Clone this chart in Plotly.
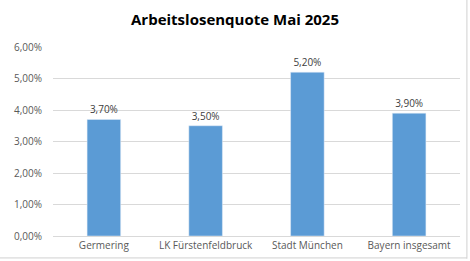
import plotly.graph_objects as go

categories = ["Germering", "LK Fürstenfeldbruck", "Stadt München", "Bayern insgesamt"]
values = [0.037, 0.035, 0.052, 0.039]
tick_vals = [0, 0.01, 0.02, 0.03, 0.04, 0.05, 0.06]

fig = go.Figure(go.Bar(
    x=categories, y=values,
    marker_color="#5B9BD5",
    texttemplate="%{y:.2%}", textposition="outside",
    textfont=dict(size=10, color="#404040"),
    cliponaxis=False,
))

fig.update_layout(
    width=470, height=261,
    margin=dict(l=53, r=10, t=47, b=25),
    paper_bgcolor="white", plot_bgcolor="white",
    separators=",.",
    bargap=0.67,
    font=dict(family="Open Sans, Liberation Sans, sans-serif", color="#595959", size=10),
    title=dict(text="<b>Arbeitslosenquote Mai 2025</b>", x=0.5, xanchor="center",
               y=0.925, yanchor="middle",
               font=dict(size=15, color="#000000")),
    showlegend=False,
)
fig.update_yaxes(range=[0, 0.06], tickvals=tick_vals, tickformat=".2%",
                 showgrid=True, gridcolor="#D9D9D9", gridwidth=1,
                 zeroline=False, showline=False, ticks="", ticklabelstandoff=10,
                 tickfont=dict(size=10, color="#595959"))
fig.update_xaxes(showline=True, linecolor="#D9D9D9", ticks="",
                 tickfont=dict(size=10, color="#595959"))

fig.add_shape(type="line", xref="paper", yref="paper", x0=1.017, x1=1.017, y0=-0.12, y1=1.3,
              line=dict(color="#D0D0D0", width=1))
fig.add_shape(type="line", xref="paper", yref="paper", x0=-0.2, x1=1.017, y0=-0.116, y1=-0.116,
              line=dict(color="#D0D0D0", width=1))

fig.write_html("out.html")
